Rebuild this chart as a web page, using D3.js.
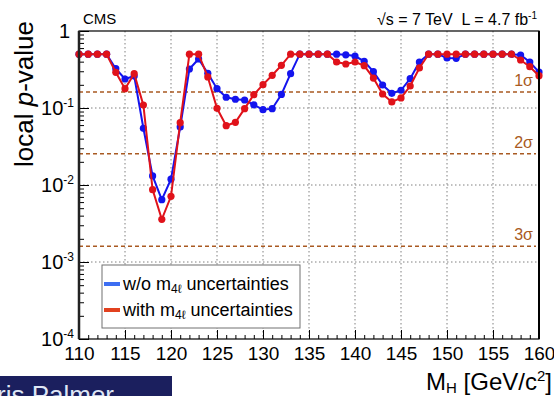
<!DOCTYPE html>
<html>
<head>
<meta charset="utf-8">
<script src="https://cdn.jsdelivr.net/npm/d3@7"></script>
<style>
body { margin: 0; background: #fff; }
svg { display: block; font-family: "Liberation Sans", Arial, sans-serif; }
</style>
</head>
<body>
<div id="chart"></div>
<script>
// Higgs mass points (GeV/c^2)
var mass = [110, 111, 112, 113, 114, 115, 116, 117, 118, 119, 120, 121, 122, 123, 124, 125, 126, 127, 128, 129,
    130, 131, 132, 133, 134, 135, 136, 137, 138, 139, 140, 141, 142, 143, 144, 145, 146, 147, 148, 149,
    150, 151, 152, 153, 154, 155, 156, 157, 158, 159, 160];

// local p-value without m4l uncertainties
var pNoUnc = [0.5, 0.5, 0.5, 0.5, 0.324, 0.238, 0.26, 0.0545, 0.0131, 0.00645, 0.0119, 0.0567, 0.321, 0.433, 0.282, 0.178, 0.138, 0.13, 0.127, 0.110,
    0.095, 0.098, 0.150, 0.279, 0.5, 0.5, 0.5, 0.5, 0.5, 0.49, 0.473, 0.404, 0.296, 0.199, 0.155, 0.17, 0.24, 0.396, 0.5, 0.5,
    0.446, 0.442, 0.5, 0.5, 0.5, 0.5, 0.5, 0.5, 0.488, 0.396, 0.293];

// local p-value with m4l uncertainties
var pWithUnc = [0.5, 0.5, 0.5, 0.5, 0.291, 0.178, 0.279, 0.109, 0.0087, 0.00358, 0.00713, 0.0645, 0.5, 0.5, 0.253, 0.099, 0.0589, 0.0652, 0.098, 0.149,
    0.201, 0.266, 0.358, 0.5, 0.5, 0.5, 0.5, 0.5, 0.396, 0.373, 0.396, 0.355, 0.245, 0.152, 0.12, 0.135, 0.193, 0.331, 0.5, 0.5,
    0.5, 0.5, 0.5, 0.5, 0.5, 0.5, 0.5, 0.5, 0.42, 0.344, 0.263];

var xTicks = [110, 115, 120, 125, 130, 135, 140, 145, 150, 155, 160];
var yTicks = [1e-4, 1e-3, 1e-2, 1e-1, 1];
var yTickExp = ["-4", "-3", "-2", "-1", ""];
var sigmaP = [0.161, 0.0255, 0.0016];
var sigmaLabels = ["1σ", "2σ", "3σ"];
var seriesNames = ["w/o m", "with m"];

var W = 554, H = 396;
var pL = 79, pR = 539, pT = 31, pB = 339;
var sigmaColor = "#a95a22";
var colors = ["#1414ee", "#e0121a"];
var legendColors = ["#3d6ef2", "#e2411f"];

var svg = d3.select("#chart").append("svg")
    .attr("width", W).attr("height", H);

var x = d3.scaleLinear().domain([110, 160]).range([pL, pR]);
var y = d3.scaleLog().domain([1e-4, 1]).range([pB, pT]);

// grid
var grid = svg.append("g")
    .attr("stroke", "#808080")
    .attr("stroke-width", 1)
    .attr("stroke-dasharray", "1.5,2.5");
grid.selectAll("line.gx")
    .data(xTicks.slice(1, -1)).enter()
    .append("line")
    .attr("x1", d => x(d)).attr("x2", d => x(d))
    .attr("y1", pT).attr("y2", pB);
grid.selectAll("line.gy")
    .data(yTicks.slice(1, -1)).enter()
    .append("line")
    .attr("x1", pL).attr("x2", pR)
    .attr("y1", d => y(d)).attr("y2", d => y(d));

// sigma lines
svg.append("g").selectAll("line")
    .data(sigmaP).enter()
    .append("line")
    .attr("x1", pL).attr("x2", pR - 3)
    .attr("y1", d => y(d)).attr("y2", d => y(d))
    .attr("stroke", sigmaColor)
    .attr("stroke-width", 1.5)
    .attr("stroke-dasharray", "4,3");
svg.append("g").selectAll("text")
    .data(sigmaP).enter()
    .append("text")
    .attr("x", pR - 6)
    .attr("y", d => y(d) - 6)
    .attr("text-anchor", "end")
    .attr("fill", sigmaColor)
    .style("font-size", "16px")
    .text((d, i) => sigmaLabels[i]);

// x axis: majors and minors, ticks pointing inward
var minorX = mass.filter(d => d % 5 != 0);
svg.append("g")
    .attr("transform", `translate(0,${pB})`)
    .call(d3.axisBottom(x).tickValues(minorX).tickSize(-4).tickFormat(""))
    .call(g => g.select(".domain").remove());
svg.append("g")
    .attr("transform", `translate(0,${pB})`)
    .call(d3.axisBottom(x).tickValues(xTicks).tickSize(-9).tickPadding(8).tickFormat(d3.format("d")))
    .call(g => g.select(".domain").remove())
    .call(g => g.selectAll("text").attr("fill", "#000").style("font-size", "19px").attr("font-family", null));

// y axis minor ticks
var minorY = [];
yTicks.slice(0, -1).forEach(function (t) {
    for (var k = 2; k < 10; k++) minorY.push(t * k);
});
svg.append("g")
    .attr("transform", `translate(${pL},0)`)
    .call(d3.axisLeft(y).tickValues(minorY).tickSize(-5).tickFormat(""))
    .call(g => g.select(".domain").remove());
svg.append("g")
    .attr("transform", `translate(${pL},0)`)
    .call(d3.axisLeft(y).tickValues(yTicks).tickSize(-10).tickFormat(""))
    .call(g => g.select(".domain").remove());

// y labels with superscripts
var yl = svg.append("g").selectAll("text")
    .data(yTicks).enter()
    .append("text")
    .attr("text-anchor", "end")
    .attr("y", d => y(d) + 7)
    .style("font-size", "20px")
    .attr("x", (d, i) => yTickExp[i] ? pL - 5 : pL - 9);
yl.append("tspan").text((d, i) => yTickExp[i] ? "10" : "1");
yl.filter((d, i) => yTickExp[i] != "")
    .append("tspan")
    .attr("dy", -8)
    .style("font-size", "12px")
    .text(d => yTickExp[yTicks.indexOf(d)]);

// series
var line = d3.line()
    .x((d, i) => x(mass[i]))
    .y(d => y(d));
[pNoUnc, pWithUnc].forEach(function (series, s) {
    var g = svg.append("g");
    g.append("path")
        .datum(series)
        .attr("fill", "none")
        .attr("stroke", colors[s])
        .attr("stroke-width", 2)
        .attr("d", line);
    g.selectAll("circle")
        .data(series).enter()
        .append("circle")
        .attr("cx", (d, i) => x(mass[i]))
        .attr("cy", d => y(d))
        .attr("r", 3.6)
        .attr("fill", colors[s]);
});

// frame
svg.append("rect")
    .attr("x", pL).attr("y", pT)
    .attr("width", pR - pL).attr("height", pB - pT)
    .attr("fill", "none")
    .attr("stroke", "#000")
    .attr("stroke-width", 1.2);
svg.append("line")
    .attr("x1", pL).attr("x2", pL)
    .attr("y1", pT).attr("y2", pB)
    .attr("stroke", "#222").attr("stroke-width", 2.5);
svg.append("line")
    .attr("x1", pR).attr("x2", pR)
    .attr("y1", pT).attr("y2", pB)
    .attr("stroke", "#000").attr("stroke-width", 2);

// legend
var lg = svg.append("g").attr("transform", "translate(102,265)");
lg.append("rect")
    .attr("width", 198).attr("height", 63)
    .attr("fill", "#fff")
    .attr("stroke", "#707070")
    .attr("stroke-width", 1);
seriesNames.forEach(function (name, i) {
    var yy = 19 + i * 26;
    lg.append("line")
        .attr("x1", 2).attr("x2", 18)
        .attr("y1", yy).attr("y2", yy)
        .attr("stroke", legendColors[i])
        .attr("stroke-width", 4);
    var t = lg.append("text")
        .attr("x", 21).attr("y", yy + 6)
        .style("font-size", "18px");
    t.append("tspan").text(name);
    t.append("tspan").attr("dy", 3).style("font-size", "12px").text("4ℓ");
    t.append("tspan").attr("dy", -3).text(" uncertainties");
});

// titles
svg.append("text")
    .attr("transform", "translate(33,94) rotate(-90)")
    .attr("text-anchor", "middle")
    .style("font-size", "26px")
    .call(t => {
        t.append("tspan").text("local ");
        t.append("tspan").style("font-style", "italic").text("p");
        t.append("tspan").text("-value");
    });

var xt = svg.append("text")
    .attr("x", 552).attr("y", 390)
    .attr("text-anchor", "end")
    .style("font-size", "24px");
xt.append("tspan").text("M");
xt.append("tspan").attr("dy", 3).style("font-size", "15px").text("H");
xt.append("tspan").attr("dy", -3).text(" [GeV/c");
xt.append("tspan").attr("dy", -9).style("font-size", "15px").text("2");
xt.append("tspan").attr("dy", 9).text("]");

svg.append("text")
    .attr("x", 83).attr("y", 24)
    .style("font-size", "15px")
    .text("CMS");

var en = svg.append("text")
    .attr("x", 537).attr("y", 25)
    .attr("text-anchor", "end")
    .style("font-size", "16px");
en.append("tspan").text("\u221As = 7 TeV\u00a0\u00a0L = 4.7 fb");
en.append("tspan").attr("dy", -6).style("font-size", "10px").text("-1");

// cut-off name banner at the bottom left
svg.append("rect")
    .attr("x", 0).attr("y", 376)
    .attr("width", 172).attr("height", 20)
    .attr("fill", "#1b1f5e");
svg.append("text")
    .attr("x", -3).attr("y", 404)
    .attr("fill", "#dfe6f5")
    .style("font-size", "26px")
    .text("ris Palmer");
</script>
</body>
</html>
